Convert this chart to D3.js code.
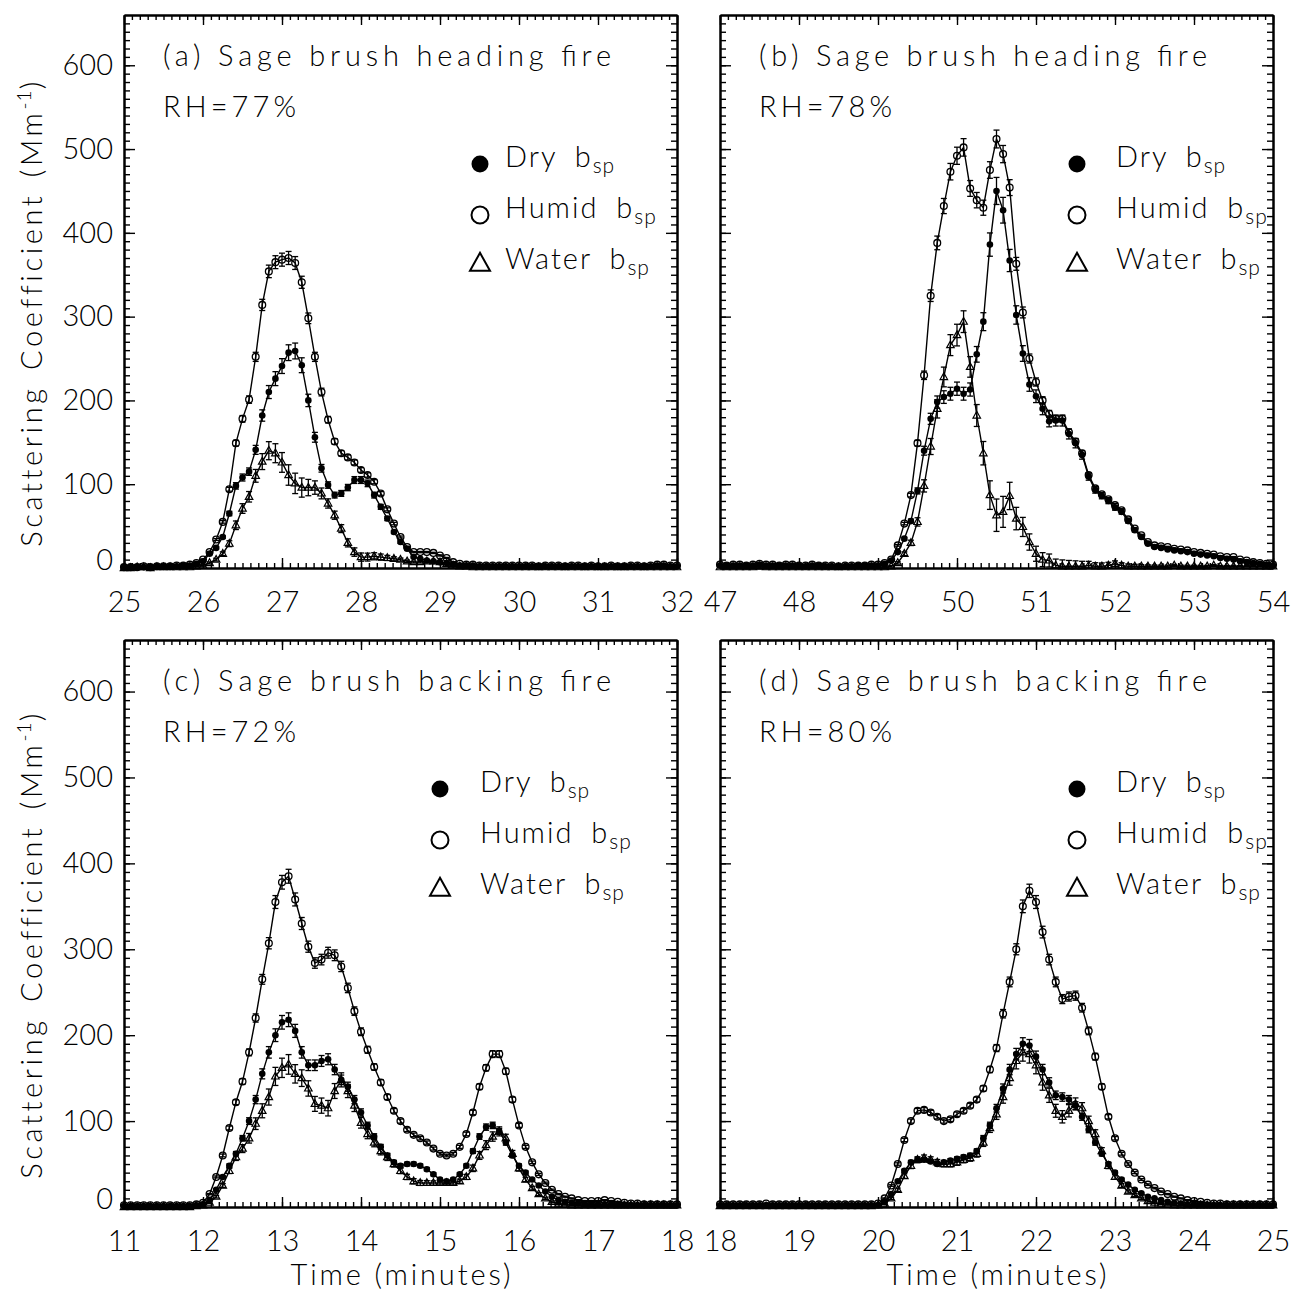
<!DOCTYPE html>
<html>
<head>
<meta charset="utf-8">
<script src="https://cdn.jsdelivr.net/npm/d3@7"></script>
<style>
  html, body { margin: 0; padding: 0; background: #fff; }
  svg { display: block; }
  text { font-family: Lato, "DejaVu Sans", sans-serif; font-weight: 300; fill: #000; }
</style>
</head>
<body>
<svg id="chart" width="1293" height="1292"></svg>
<script>
// Scattering coefficients (Mm^-1), one reading every 5 seconds.
const SAMPLE_MIN = 1 / 12;

// (a) Sage brush heading fire, RH=77%, starting at 25 min
const aStart = 25;
const aDry = [
  1,1,1,1,1,2,2,2,2,3,3,5,
  8,17,24,37,65,98,108,115,141,182,210,226,
  241,257,259,242,200,156,119,99,87,89,96,105,
  105,101,87,73,59,43,31,23,13,11,9,8,
  7,6,4,3,3,3,2,2,2,2,2,2,
  2,2,2,2,2,2,2,2,2,2,2,2,
  2,2,2,2,2,2,2,2,2,3,3,2,
  2];
const aHumid = [
  1,1,1,2,1,2,2,2,3,3,4,6,
  10,19,34,55,94,149,178,201,252,314,354,365,
  368,370,364,341,298,252,210,177,151,137,132,126,
  117,111,103,89,70,53,37,25,19,19,19,18,
  15,12,7,5,4,4,3,3,3,3,3,3,
  3,3,3,2,3,3,3,2,3,3,2,3,
  2,2,3,2,2,3,3,2,3,4,4,3,
  3];
const aWater = [
  0,0,1,1,0,1,1,1,1,1,1,2,
  3,6,10,17,29,51,71,85,110,127,140,137,
  126,111,101,96,96,96,89,77,63,47,30,19,
  13,13,14,13,12,11,10,8,7,7,8,8,
  7,5,3,2,2,1,1,1,1,1,1,1,
  1,1,1,1,1,1,1,1,1,1,1,1,
  1,1,1,1,1,1,1,1,1,1,1,1,
  1];

// (b) Sage brush heading fire, RH=78%, starting at 47 min
const bStart = 47;
const bDry = [
  3,3,3,3,3,3,4,3,3,3,3,3,
  3,2,3,3,2,2,2,2,2,3,3,3,
  3,5,9,19,35,56,92,140,178,198,204,208,
  214,208,213,255,294,386,450,427,367,302,256,219,
  205,190,175,176,176,160,149,135,109,93,86,80,
  72,67,56,45,37,29,25,24,22,21,20,19,
  17,16,15,14,12,11,10,8,7,6,5,4,
  3];
const bHumid = [
  4,3,4,4,3,4,5,4,4,3,4,4,
  3,3,4,3,3,3,2,3,3,3,3,4,
  4,6,10,27,53,87,149,230,325,388,432,473,
  492,502,453,439,430,475,512,494,454,363,305,250,
  222,200,184,178,178,162,151,137,111,95,88,82,
  75,69,58,47,39,31,27,26,25,23,22,21,
  19,18,17,16,14,13,13,10,9,7,6,5,
  4];
const bWater = [
  1,1,1,1,1,1,2,1,1,1,1,1,
  1,1,1,1,1,1,1,1,1,1,1,1,
  1,1,2,6,17,30,55,98,145,190,228,266,
  278,294,240,182,137,87,63,67,86,59,49,31,
  17,10,9,3,2,2,2,2,3,2,2,3,
  5,3,2,2,2,2,2,2,2,3,2,2,
  2,2,2,3,2,2,2,2,2,2,2,2,
  2];

// (c) Sage brush backing fire, RH=72%, starting at 11 min
const cStart = 11;
const cDry = [
  1,1,1,1,1,1,1,1,1,1,1,2,
  3,8,20,35,48,62,80,100,125,155,180,200,
  215,218,205,180,165,165,170,172,160,148,140,125,
  110,95,82,70,60,52,48,50,50,48,44,38,
  32,30,32,38,48,65,82,93,95,88,75,60,
  48,40,32,25,18,12,8,6,5,4,3,3,
  3,3,3,2,2,2,2,2,2,2,2,2,
  2];
const cHumid = [
  2,2,2,2,2,2,2,2,2,2,2,3,
  5,15,35,60,92,122,146,180,220,265,307,355,
  378,385,358,330,303,284,288,296,293,280,255,228,
  204,183,163,145,128,112,100,90,84,80,75,68,
  62,60,62,70,85,110,140,162,178,178,158,125,
  95,70,52,38,28,20,15,12,10,8,7,7,
  7,8,7,6,5,4,4,3,3,3,3,3,
  3];
const cWater = [
  0,0,0,0,0,0,0,0,0,0,0,1,
  2,5,12,25,42,58,68,80,97,112,128,152,
  162,166,155,150,138,120,118,115,135,148,135,118,
  98,85,75,65,58,50,42,35,30,28,28,28,
  28,28,28,30,35,45,60,72,82,88,80,62,
  45,32,22,15,10,6,4,3,2,2,2,2,
  2,2,2,2,2,2,2,2,2,2,2,2,
  2];

// (d) Sage brush backing fire, RH=80%, starting at 18 min
const dStart = 18;
const dDry = [
  2,2,2,2,2,2,2,2,2,2,2,2,
  2,2,2,2,2,2,2,2,2,2,2,2,
  2,6,15,30,42,52,55,55,53,50,52,54,
  56,58,60,65,80,95,115,138,160,178,190,188,
  175,160,145,130,128,125,118,105,90,75,62,50,
  40,32,26,20,16,12,10,8,6,5,4,3,
  3,2,2,2,2,2,2,2,2,2,2,2,
  2];
const dHumid = [
  3,3,3,3,3,3,3,4,3,3,3,3,
  3,3,3,3,3,3,3,3,3,3,3,3,
  4,10,25,50,78,100,112,113,110,105,100,102,
  108,112,118,125,138,160,185,225,262,300,350,368,
  355,320,288,262,242,245,246,232,205,175,140,105,
  80,62,50,40,32,26,22,18,15,12,10,8,
  7,6,5,4,4,3,3,3,3,3,3,3,
  3];
const dWater = [
  1,1,1,1,1,1,1,1,1,1,1,1,
  1,1,1,1,1,1,1,1,1,1,1,1,
  2,4,10,20,36,48,55,57,55,52,50,50,
  52,55,57,62,75,92,108,128,150,170,180,178,
  165,145,130,112,105,112,120,115,100,85,65,48,
  35,25,18,14,10,7,5,4,3,2,2,2,
  2,2,2,2,2,2,2,2,2,2,2,2,
  2];

const panelTitles = ["(a) Sage brush heading fire", "(b) Sage brush heading fire",
                     "(c) Sage brush backing fire", "(d) Sage brush backing fire"];
const panelRH = ["RH=77%", "RH=78%", "RH=72%", "RH=80%"];
const yMajorTicks = [0, 100, 200, 300, 400, 500, 600];
const yMax = 660;

// Relative instrument uncertainty of each nephelometer
const relErrHumid = 0.02;
const relErrDry = 0.035;

const svg = d3.select("#chart");

const panels = [
  { start: aStart, dry: aDry, humid: aHumid, water: aWater, left: 124, right: 677, top: 15,  bottom: 568,  yLabels: true,  xTitle: false, legX: 480,  legTextX: 505 },
  { start: bStart, dry: bDry, humid: bHumid, water: bWater, left: 720, right: 1273, top: 15, bottom: 568,  yLabels: false, xTitle: false, legX: 1077, legTextX: 1116 },
  { start: cStart, dry: cDry, humid: cHumid, water: cWater, left: 124, right: 677, top: 640, bottom: 1207, yLabels: true,  xTitle: true,  legX: 440,  legTextX: 480 },
  { start: dStart, dry: dDry, humid: dHumid, water: dWater, left: 720, right: 1273, top: 640, bottom: 1207, yLabels: false, xTitle: true, legX: 1077, legTextX: 1116 }
];

function triPath(cx, cy, s) {
  const h = s * 0.9;
  return `M${cx},${cy - h * 0.62}L${cx + s / 2},${cy + h * 0.38}L${cx - s / 2},${cy + h * 0.38}Z`;
}

panels.forEach((p, pi) => {
  const x = d3.scaleLinear().domain([p.start, p.start + 7]).range([p.left, p.right]);
  const y = d3.scaleLinear().domain([0, yMax]).range([p.bottom, p.top]);
  const g = svg.append("g");

  const majorX = d3.range(p.start, p.start + 8);
  const minorX = d3.range(0, 71).map(i => p.start + i / 10);
  const minorY = d3.range(0, 66).map(i => i * 10);

  // axes: ticks point into the plot box
  const axStyle = sel => {
    sel.select(".domain").attr("stroke", "#000").attr("stroke-width", 2);
    sel.selectAll(".tick line").attr("stroke", "#000").attr("stroke-width", 1.4);
  };
  // bottom
  g.append("g").attr("transform", `translate(0,${p.bottom})`)
    .call(d3.axisBottom(x).tickValues(minorX).tickSize(-5).tickSizeOuter(0).tickFormat(""))
    .call(axStyle);
  const bx = g.append("g").attr("transform", `translate(0,${p.bottom})`)
    .call(d3.axisBottom(x).tickValues(majorX).tickSize(-10).tickSizeOuter(0)
      .tickPadding(23).tickFormat(d3.format("d")))
    .call(axStyle);
  bx.selectAll("text").style("font-size", "29px").attr("font-family", null);
  // top
  g.append("g").attr("transform", `translate(0,${p.top})`)
    .call(d3.axisTop(x).tickValues(minorX).tickSize(-5).tickSizeOuter(0).tickFormat(""))
    .call(axStyle);
  g.append("g").attr("transform", `translate(0,${p.top})`)
    .call(d3.axisTop(x).tickValues(majorX).tickSize(-10).tickSizeOuter(0).tickFormat(""))
    .call(axStyle);
  // left
  g.append("g").attr("transform", `translate(${p.left},0)`)
    .call(d3.axisLeft(y).tickValues(minorY).tickSize(-6).tickSizeOuter(0).tickFormat(""))
    .call(axStyle);
  const ly = g.append("g").attr("transform", `translate(${p.left},0)`)
    .call(d3.axisLeft(y).tickValues(yMajorTicks).tickSize(-11).tickSizeOuter(0)
      .tickPadding(11).tickFormat(p.yLabels ? d3.format("d") : ""))
    .call(axStyle);
  ly.selectAll("text").style("font-size", "29px").attr("font-family", null);
  ly.selectAll(".tick").filter(d => d === 0).select("text").attr("y", -8);
  // right
  g.append("g").attr("transform", `translate(${p.right},0)`)
    .call(d3.axisRight(y).tickValues(minorY).tickSize(-6).tickSizeOuter(0).tickFormat(""))
    .call(axStyle);
  g.append("g").attr("transform", `translate(${p.right},0)`)
    .call(d3.axisRight(y).tickValues(yMajorTicks).tickSize(-11).tickSizeOuter(0).tickFormat(""))
    .call(axStyle);

  // series
  const t = i => p.start + i * SAMPLE_MIN;
  const errH = p.humid.map(v => relErrHumid * v + 0.4);
  const errD = p.dry.map(v => relErrDry * v + 0.4);
  const errW = errH.map((e, i) => Math.sqrt(e * e + errD[i] * errD[i]));
  const series = [
    { vals: p.humid, err: errH, kind: "open" },
    { vals: p.dry, err: errD, kind: "filled" },
    { vals: p.water, err: errW, kind: "tri" }
  ];
  const line = d3.line().x((d, i) => x(t(i))).y(d => y(d));
  const plot = g.append("g");
  series.forEach(s => {
    plot.append("path").datum(s.vals).attr("d", line)
      .attr("fill", "none").attr("stroke", "#000").attr("stroke-width", 1.4);
    // error bars
    const eb = plot.append("g").attr("stroke", "#000").attr("stroke-width", 1.3);
    s.vals.forEach((v, i) => {
      const cx = x(t(i)), y1 = y(v + s.err[i]), y0 = y(Math.max(0, v - s.err[i]));
      eb.append("line").attr("x1", cx).attr("x2", cx).attr("y1", y1).attr("y2", y0);
      eb.append("line").attr("x1", cx - 3).attr("x2", cx + 3).attr("y1", y1).attr("y2", y1);
      eb.append("line").attr("x1", cx - 3).attr("x2", cx + 3).attr("y1", y0).attr("y2", y0);
    });
    const mk = plot.append("g");
    s.vals.forEach((v, i) => {
      const cx = x(t(i)), cy = y(v);
      if (s.kind === "open") {
        mk.append("circle").attr("cx", cx).attr("cy", cy).attr("r", 3.4)
          .attr("fill", "none").attr("stroke", "#000").attr("stroke-width", 1.3);
      } else if (s.kind === "filled") {
        mk.append("circle").attr("cx", cx).attr("cy", cy).attr("r", 3.3).attr("fill", "#000");
      } else {
        mk.append("path").attr("d", triPath(cx, cy, 7.5))
          .attr("fill", "none").attr("stroke", "#000").attr("stroke-width", 1.2);
      }
    });
  });

  // title and RH annotation
  g.append("text").attr("x", p.left + 39).attr("y", p.top + 51)
    .attr("textLength", 448).attr("lengthAdjust", "spacing")
    .style("font-size", "29px").text(panelTitles[pi]);
  g.append("text").attr("x", p.left + 39).attr("y", p.top + 102)
    .attr("textLength", 133).attr("lengthAdjust", "spacing")
    .style("font-size", "29px").text(panelRH[pi]);

  // legend
  const legRows = [["Dry", "filled"], ["Humid", "open"], ["Water", "tri"]];
  const legY0 = p.top + 151, legDy = 51;
  legRows.forEach((r, k) => {
    const cy = legY0 + k * legDy;
    if (r[1] === "filled") {
      g.append("circle").attr("cx", p.legX).attr("cy", cy - 2).attr("r", 8.5).attr("fill", "#000");
    } else if (r[1] === "open") {
      g.append("circle").attr("cx", p.legX).attr("cy", cy - 2).attr("r", 8.5)
        .attr("fill", "none").attr("stroke", "#000").attr("stroke-width", 2);
    } else {
      g.append("path").attr("d", triPath(p.legX, cy - 4, 20))
        .attr("fill", "none").attr("stroke", "#000").attr("stroke-width", 2);
    }
    const tx = g.append("text").attr("x", p.legTextX).attr("y", cy + 1)
      .style("font-size", "29px").style("letter-spacing", "2px").style("word-spacing", "8px");
    tx.append("tspan").text(r[0] + " b");
    tx.append("tspan").attr("dy", 6).style("font-size", "21px").style("letter-spacing", "1px").text("sp");
  });

  // axis titles
  if (p.yLabels) {
    const yc = (p.top + p.bottom) / 2 + 21;
    const yt = g.append("text")
      .attr("transform", `translate(42,${yc}) rotate(-90)`)
      .attr("text-anchor", "middle")
      .style("font-size", "29px").style("letter-spacing", "3.6px").style("word-spacing", "4px");
    yt.append("tspan").text("Scattering Coefficient (Mm");
    yt.append("tspan").attr("dy", -11).style("font-size", "19px").style("letter-spacing", "1px").text("-1");
    yt.append("tspan").attr("dy", 11).text(")");
  }
  if (p.xTitle) {
    g.append("text").attr("x", (p.left + p.right) / 2).attr("y", 1285)
      .attr("text-anchor", "middle").attr("textLength", 220).attr("lengthAdjust", "spacing")
      .style("font-size", "29px").text("Time (minutes)");
  }
});
</script>
</body>
</html>
